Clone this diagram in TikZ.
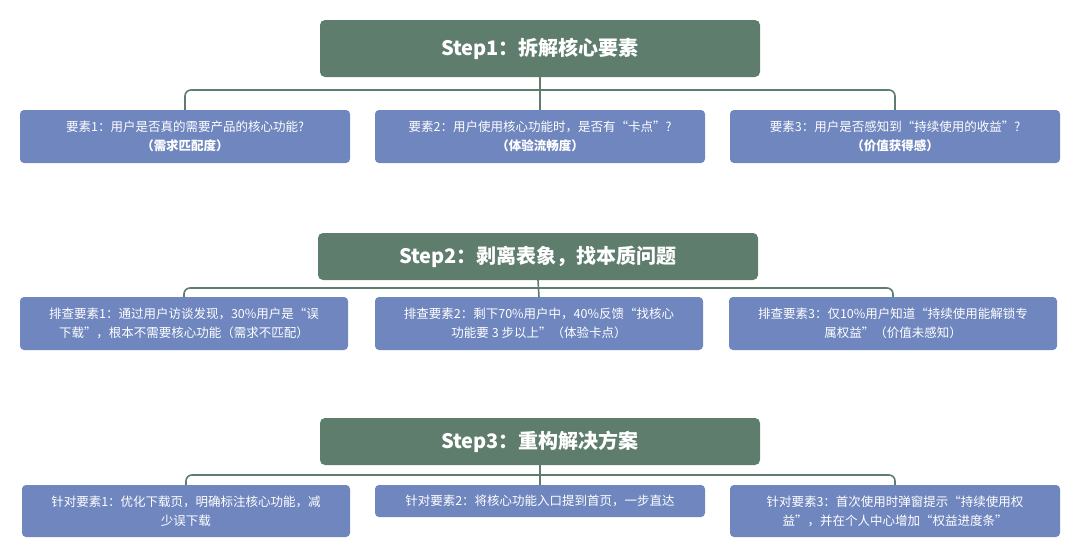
\documentclass[tikz,border=0pt]{standalone}
\usepackage{fontspec}
\setmainfont{Noto Sans CJK SC}
\begin{document}
\begin{tikzpicture}[x=1pt,y=-1pt,
    stepbox/.style={fill=stepgreen, rounded corners=5pt, text=white, font=\fontsize{20}{24}\selectfont\bfseries, minimum width=440pt},
    itembox/.style={fill=itemblue, rounded corners=4pt, text=white, font=\fontsize{12.5}{19}\selectfont, minimum width=330pt, align=center},
    link/.style={draw=stepgreen, line width=1.6pt, rounded corners=6pt}]
  \definecolor{stepgreen}{HTML}{5F7D6D}
  \definecolor{itemblue}{HTML}{6F86BE}
  \useasboundingbox (0,0) rectangle (1080,557);
  % step 1
  \node[stepbox, minimum height=57pt] (s1) at (540,48.5) {Step1：拆解核心要素};
  \node[itembox, minimum height=53pt] (a1) at (185,136.5) {要素1：用户是否真的需要产品的核心功能?\\\textbf{（需求匹配度）}};
  \node[itembox, minimum height=53pt] (a2) at (540,136.5) {要素2：用户使用核心功能时，是否有“卡点”?\\\textbf{（体验流畅度）}};
  \node[itembox, minimum height=53pt] (a3) at (895,136.5) {要素3：用户是否感知到“持续使用的收益”?\\\textbf{（价值获得感）}};
  \draw[link] (s1.south) -- (a2.north);
  \draw[link] (a1.north) |- (540,90) -| (a3.north);
  % step 2
  \node[stepbox, minimum height=47pt] (s2) at (538,256.5) {Step2：剥离表象，找本质问题};
  \node[itembox, minimum width=328pt, minimum height=53pt] (b1) at (184,323.5) {排查要素1：通过用户访谈发现，30\%用户是“误\\下载”，根本不需要核心功能（需求不匹配）};
  \node[itembox, minimum width=328pt, minimum height=53pt] (b2) at (539,323.5) {排查要素2：剩下70\%用户中，40\%反馈“找核心\\功能要 3 步以上”（体验卡点）};
  \node[itembox, minimum width=328pt, minimum height=53pt] (b3) at (893,323.5) {排查要素3：仅10\%用户知道“持续使用能解锁专\\属权益”（价值未感知）};
  \draw[link] (s2.south) -- (b2.north);
  \draw[link] (b1.north) |- (538,288) -| (b3.north);
  % step 3
  \node[stepbox, minimum height=47pt] (s3) at (540,441.5) {Step3：重构解决方案};
  \node[itembox, minimum width=328pt, minimum height=52pt] (c1) at (186,511) {针对要素1：优化下载页，明确标注核心功能，减\\少误下载};
  \node[itembox, minimum height=32pt] (c2) at (540,501) {针对要素2：将核心功能入口提到首页，一步直达};
  \node[itembox, minimum height=52pt] (c3) at (895,511) {针对要素3：首次使用时弹窗提示“持续使用权\\益”，并在个人中心增加“权益进度条”};
  \draw[link] (s3.south) -- (c2.north);
  \draw[link] (c1.north) |- (540,475) -| (c3.north);
\end{tikzpicture}
\end{document}
